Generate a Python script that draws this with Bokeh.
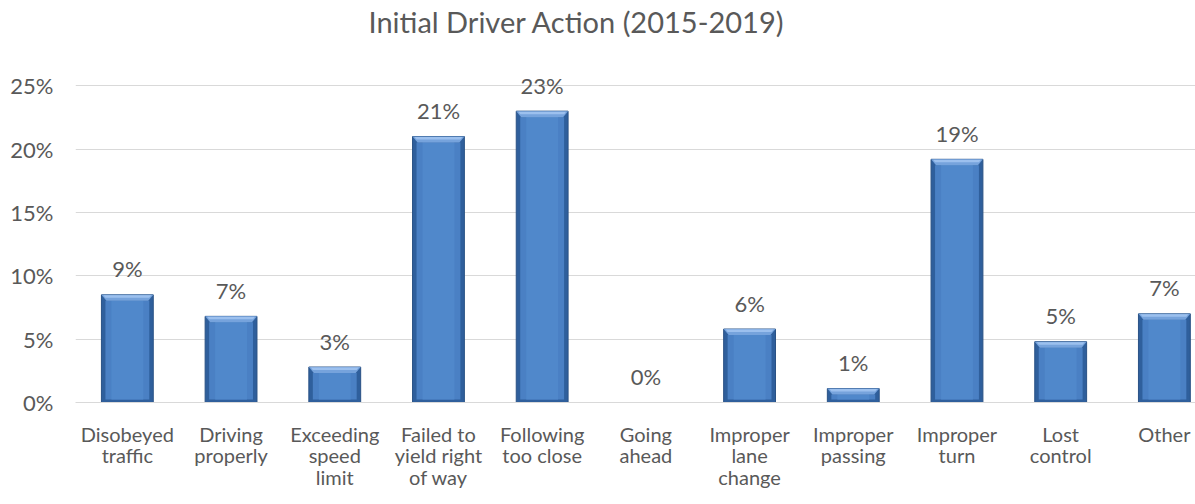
from bokeh.plotting import figure
from bokeh.models import Range1d, FixedTicker, Title, ColumnDataSource
from bokeh.embed import file_html
from bokeh.resources import INLINE
from bokeh.core.properties import value

# ---- data ----
categories = ["Disobeyed\ntraffic", "Driving\nproperly", "Exceeding\nspeed\nlimit",
              "Failed to\nyield right\nof way", "Following\ntoo close", "Going\nahead",
              "Improper\nlane\nchange", "Improper\npassing", "Improper\nturn",
              "Lost\ncontrol", "Other"]
values = [8.5, 6.8, 2.8, 21.0, 23.0, 0.0, 5.8, 1.1, 19.2, 4.8, 7.0]
value_labels = ["9%", "7%", "3%", "21%", "23%", "0%", "6%", "1%", "19%", "5%", "7%"]
y_ticks = [0, 5, 10, 15, 20, 25]
y_tick_labels = ["0%", "5%", "10%", "15%", "20%", "25%"]
title_text = "Initial Driver Action (2015-2019)"

FONT = "Lato"
GREY = "#595959"

W, H = 1195, 504
BL, BR, BT, BB = 75, 0, 60, 102
YMAX = 27.0
n = len(categories)
XMIN, XMAX = -0.5, 10.3

p = figure(width=W, height=H, output_backend="svg", toolbar_location=None,
           x_range=Range1d(XMIN, XMAX), y_range=Range1d(0, YMAX),
           min_border_left=BL, min_border_right=BR, min_border_top=BT, min_border_bottom=BB,
           background_fill_color="white", border_fill_color="white")
p.outline_line_color = None

# pixel -> data conversions
fw = W - BL - BR
fh = H - BT - BB
px_x = (XMAX - XMIN) / fw
px_y = YMAX / fh

xs = list(range(n))
bw = 0.50
src = ColumnDataSource(dict(x=xs, top=values, lab=value_labels))

# bar base (dark edges)
p.vbar(x="x", top="top", bottom=0, width=bw, source=src,
       fill_color="#2f5f9c", line_color="#2a5285", line_width=1)
# inner body
inner_top = [max(v - 6 * px_y, 0) for v in values]
inner_bot = [min(3 * px_y, v) for v in values]
p.vbar(x=xs, top=inner_top, bottom=inner_bot, width=bw - 8 * px_x,
       fill_color="#4a80c4", line_color=None)
p.vbar(x=xs, top=inner_top, bottom=inner_bot, width=bw - 20 * px_x,
       fill_color="#5088cb", line_color=None)
# top bevel
bx = 5 * px_x
bh = 6 * px_y
pxs, pys, pxs2, pys2 = [], [], [], []
for x, v in zip(xs, values):
    if v <= 0:
        continue
    b = min(bh, v)
    pxs.append([x - bw / 2, x + bw / 2, x + bw / 2 - bx, x - bw / 2 + bx])
    pys.append([v, v, v - b, v - b])
    pxs2.append([x - bw / 2 + 2 * px_x, x + bw / 2 - 2 * px_x, x + bw / 2 - 4 * px_x, x - bw / 2 + 4 * px_x])
    pys2.append([v - 0.5 * px_y, v - 0.5 * px_y, v - b * 0.5, v - b * 0.5])
p.patches(pxs, pys, fill_color="#76a3dc", line_color=None)
p.patches(pxs2, pys2, fill_color="#9cc0ee", line_color=None)

# value labels
p.text(x="x", y="top", text="lab", source=src, text_align="center",
       text_baseline="alphabetic", y_offset=-26, text_font=value(FONT),
       text_font_size="22px", text_color=GREY)

# axes
p.yaxis.ticker = FixedTicker(ticks=y_ticks)
p.yaxis.major_label_overrides = {t: l for t, l in zip(y_ticks, y_tick_labels)}
p.yaxis.axis_line_color = None
p.yaxis.major_tick_line_color = None
p.yaxis.minor_tick_line_color = None
p.yaxis.major_label_standoff = 16
p.yaxis.major_label_text_font = FONT
p.yaxis.major_label_text_font_size = "22px"
p.yaxis.major_label_text_color = GREY

p.xaxis.ticker = FixedTicker(ticks=xs)
p.xaxis.major_label_overrides = {i: c for i, c in enumerate(categories)}
p.xaxis.axis_line_color = "#d9d9d9"
p.xaxis.major_tick_line_color = None
p.xaxis.minor_tick_line_color = None
p.xaxis.major_label_standoff = 13
p.xaxis.major_label_text_font = FONT
p.xaxis.major_label_text_font_size = "20px"
p.xaxis.major_label_text_color = GREY
p.xaxis.major_label_text_line_height = 0.9

p.xgrid.grid_line_color = None
p.ygrid.ticker = FixedTicker(ticks=y_ticks)
p.ygrid.grid_line_color = "#d9d9d9"
p.ygrid.grid_line_width = 1

# spacer (nearest the frame), then the real chart title above it
p.add_layout(Title(text=" ", text_font=FONT, text_font_size="10px", standoff=8), "above")
p.add_layout(Title(text=title_text, align="left", offset=293,
                   text_font=FONT, text_font_size="29px", text_font_style="normal",
                   text_color=GREY, standoff=0), "above")

open("out.html", "w").write(file_html(p, INLINE))
